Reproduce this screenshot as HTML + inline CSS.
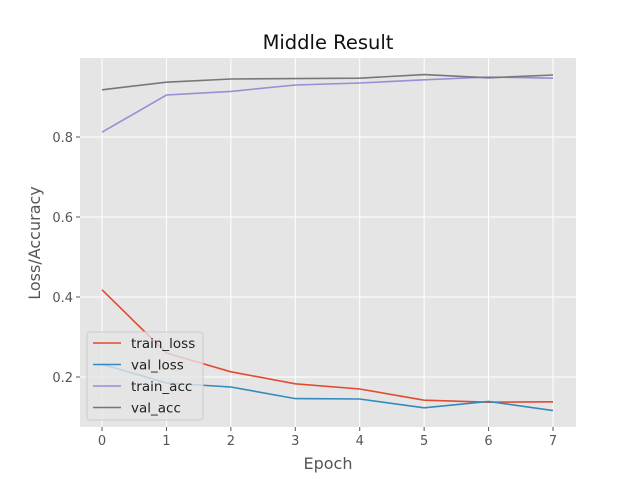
<!DOCTYPE html>
<html><head><meta charset="utf-8"><style>body{margin:0;background:#fff}svg{display:block;font-family:"DejaVu Sans","Liberation Sans",sans-serif}</style></head>
<body>
<svg id="c" width="640" height="480"></svg>
<script>
const epochs=[0,1,2,3,4,5,6,7];
const trainLoss=[0.418,0.26,0.213,0.183,0.170,0.142,0.137,0.138];
const valLoss=[0.232,0.185,0.175,0.146,0.145,0.123,0.139,0.116];
const trainAcc=[0.812,0.905,0.914,0.930,0.935,0.943,0.950,0.947];
const valAcc=[0.918,0.937,0.945,0.946,0.947,0.956,0.948,0.955];
const yTicks=[0.2,0.4,0.6,0.8];
const seriesNames=["train_loss","val_loss","train_acc","val_acc"];
const colors=["#E24A33","#348ABD","#988ED5","#777777"];
const L=80,R=576,T=58,B=427;
const sx=v=>102+v*(553-102)/7;
const sy=v=>457-v*400;
const s=document.getElementById('c');const NS="http://www.w3.org/2000/svg";
function mk(t,a,p){const e=document.createElementNS(NS,t);for(const k in a)e.setAttribute(k,a[k]);(p||s).appendChild(e);return e;}
let e=mk('rect',{x:L,y:T,width:R-L,height:B-T,fill:'#E5E5E5'});


epochs.forEach(v=>{mk('line',{x1:sx(v),x2:sx(v),y1:T,y2:B,stroke:'#fff','stroke-width':1});
mk('line',{x1:sx(v),x2:sx(v),y1:B,y2:B+4,stroke:'#555'});
const t=mk('text',{x:sx(v),y:B+18,'text-anchor':'middle','font-size':13,fill:'#555'});t.textContent=v;

});
yTicks.forEach(v=>{mk('line',{x1:L,x2:R,y1:sy(v),y2:sy(v),stroke:'#fff','stroke-width':1});
mk('line',{x1:L-4,x2:L,y1:sy(v),y2:sy(v),stroke:'#555'});
const t=mk('text',{x:L-7,y:sy(v)+5,'text-anchor':'end','font-size':13,fill:'#555'});t.textContent=v.toFixed(1);

});
[trainLoss,valLoss,trainAcc,valAcc].forEach((d,i)=>{const p=mk('polyline',{points:d.map((v,j)=>sx(epochs[j])+','+sy(v)).join(' '),fill:'none',stroke:colors[i],'stroke-width':1.6});

});
const lg=mk('g',{});


mk('rect',{x:87,y:332,width:116,height:88,rx:3,fill:'#E5E5E5',stroke:'#ccc','fill-opacity':0.8},lg);
seriesNames.forEach((n,i)=>{const y=343+i*21.5;mk('line',{x1:93,x2:121,y1:y,y2:y,stroke:colors[i],'stroke-width':1.6},lg);
const t=mk('text',{x:131,y:y+5,'font-size':13.5,fill:'#222'},lg);t.textContent=n;

});
let t=mk('text',{x:328,y:49,'text-anchor':'middle','font-size':19.5,fill:'#111'});t.textContent='Middle Result';


t=mk('text',{x:328,y:469,'text-anchor':'middle','font-size':16,fill:'#555'});t.textContent='Epoch';


t=mk('text',{x:40,y:243,'text-anchor':'middle','font-size':16,fill:'#555',transform:'rotate(-90 40 243)'});t.textContent='Loss/Accuracy';


</script>
</body></html>
